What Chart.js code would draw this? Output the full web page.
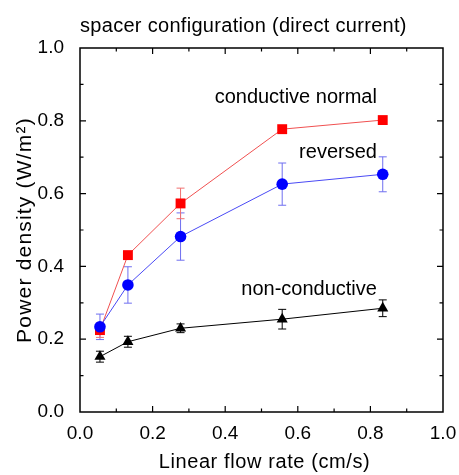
<!DOCTYPE html>
<html>
<head>
<meta charset="utf-8">
<script src="https://cdn.jsdelivr.net/npm/chart.js@4"></script>
<style>
  html, body { margin: 0; padding: 0; background: #fff; }
</style>
</head>
<body>
<canvas id="myChart" width="459" height="475"></canvas>
<script>
(() => {
  'use strict'

  // flow rates (cm/s)
  const flowRate = [0.055, 0.132, 0.277, 0.557, 0.834]

  // power density (W/m2) and error bar half-ranges
  const normal = [0.225, 0.431, 0.573, 0.777, 0.802]
  const normalErr = [0.02, 0.01, 0.042, 0.01, 0.01]
  const reversed = [0.234, 0.349, 0.482, 0.626, 0.653]
  const reversedErr = [0.035, 0.05, 0.065, 0.058, 0.048]
  const nonConductive = [0.152, 0.193, 0.230, 0.255, 0.285]
  const nonConductiveErr = [0.015, 0.015, 0.012, 0.027, 0.023]

  const tickLabels = ['0.0', '0.2', '0.4', '0.6', '0.8', '1.0']

  const FONT = 'Liberation Sans, Arial, sans-serif'

  const pts = (ys) => flowRate.map((x, i) => ({ x, y: ys[i] }))

  // error bars go under the markers
  const errorBars = {
    id: 'errorBars',
    beforeDatasetsDraw (chart) {
      const { ctx, scales: { x, y } } = chart
      ctx.save()
      chart.data.datasets.forEach(ds => {
        ctx.strokeStyle = ds.errColor
        ctx.lineWidth = 1
        ds.data.forEach((p, i) => {
          const px = x.getPixelForValue(p.x)
          const top = y.getPixelForValue(p.y + ds.err[i])
          const bot = y.getPixelForValue(p.y - ds.err[i])
          ctx.beginPath()
          ctx.moveTo(px, top); ctx.lineTo(px, bot)
          ctx.moveTo(px - 4, top); ctx.lineTo(px + 4, top)
          ctx.moveTo(px - 4, bot); ctx.lineTo(px + 4, bot)
          ctx.stroke()
        })
      })
      ctx.restore()
    }
  }

  // frame, inward ticks and texts
  const extras = {
    id: 'extras',
    afterDatasetsDraw (chart) {
      const { ctx, chartArea: a, scales: { x, y } } = chart
      ctx.save()
      ctx.strokeStyle = '#000'
      ctx.lineWidth = 1.5
      ctx.strokeRect(a.left, a.top, a.right - a.left, a.bottom - a.top)
      ctx.lineWidth = 1.2
      ctx.beginPath()
      for (let k = 1; k < 10; k++) {
        const v = k / 10
        const len = k % 2 === 0 ? 6 : 3.5
        const px = x.getPixelForValue(v)
        const py = y.getPixelForValue(v)
        ctx.moveTo(px, a.bottom); ctx.lineTo(px, a.bottom - len)
        ctx.moveTo(px, a.top); ctx.lineTo(px, a.top + len)
        ctx.moveTo(a.left, py); ctx.lineTo(a.left + len, py)
        ctx.moveTo(a.right, py); ctx.lineTo(a.right - len, py)
      }
      ctx.stroke()
      ctx.fillStyle = '#000'
      ctx.textBaseline = 'alphabetic'
      ctx.font = '20px ' + FONT
      ctx.textAlign = 'left'
      ctx.letterSpacing = '0.3px'
      ctx.fillText('spacer configuration (direct current)', a.left, 32)
      ctx.letterSpacing = '0px'
      ctx.textAlign = 'right'
      const tx = x.getPixelForValue(0.818)
      ctx.fillText('conductive normal', tx, y.getPixelForValue(0.85))
      ctx.fillText('reversed', tx, y.getPixelForValue(0.697))
      ctx.fillText('non-conductive', tx, y.getPixelForValue(0.322))
      // axis titles
      ctx.textAlign = 'center'
      ctx.letterSpacing = '0.6px'
      ctx.fillText('Linear flow rate (cm/s)', (a.left + a.right) / 2 + 3, 468)
      ctx.translate(31, (a.top + a.bottom) / 2)
      ctx.rotate(-Math.PI / 2)
      ctx.font = '21px ' + FONT
      ctx.letterSpacing = '1.2px'
      ctx.fillText('Power density (W/m²)', 0, 0)
      ctx.restore()
    }
  }

  const ctx = document.getElementById('myChart')
  // eslint-disable-next-line no-unused-vars
  const myChart = new Chart(ctx, {
    type: 'scatter',
    data: {
      datasets: [{
        label: 'non-conductive',
        data: pts(nonConductive),
        err: nonConductiveErr,
        errColor: '#000',
        showLine: true,
        borderColor: '#000',
        backgroundColor: '#000',
        borderWidth: 1,
        pointStyle: 'triangle',
        pointRadius: 6.4,
        pointBorderWidth: 0
      }, {
        label: 'reversed',
        data: pts(reversed),
        err: reversedErr,
        errColor: '#6f6ff0',
        showLine: true,
        borderColor: '#4a4af5',
        backgroundColor: '#0000ff',
        borderWidth: 1,
        pointStyle: 'circle',
        pointRadius: 5.8,
        pointBorderWidth: 0
      }, {
        label: 'conductive normal',
        data: pts(normal),
        err: normalErr,
        errColor: '#f07070',
        showLine: true,
        borderColor: '#f05050',
        backgroundColor: '#ff0000',
        borderWidth: 1,
        pointStyle: 'rect',
        pointRadius: 7,
        pointBorderWidth: 0
      }]
    },
    options: {
      responsive: false,
      animation: false,
      layout: { padding: { top: 48, right: 16, left: 0, bottom: 0 } },
      scales: {
        x: {
          type: 'linear',
          min: 0,
          max: 1,
          grid: { display: false },
          border: { display: false },
          afterFit: (s) => { s.height = 63 },
          ticks: {
            stepSize: 0.2,
            padding: 2,
            maxRotation: 0,
            color: '#000',
            font: { family: FONT, size: 19 },
            callback: (v) => tickLabels[Math.round(v * 5)]
          }
        },
        y: {
          min: 0,
          max: 1,
          grid: { display: false },
          border: { display: false },
          afterFit: (s) => { s.width = 80 },
          ticks: {
            stepSize: 0.2,
            padding: 8,
            color: '#000',
            font: { family: FONT, size: 19 },
            callback: (v) => tickLabels[Math.round(v * 5)]
          }
        }
      },
      plugins: {
        legend: { display: false },
        tooltip: { enabled: false }
      }
    },
    plugins: [errorBars, extras]
  })
})()
</script>
</body>
</html>
